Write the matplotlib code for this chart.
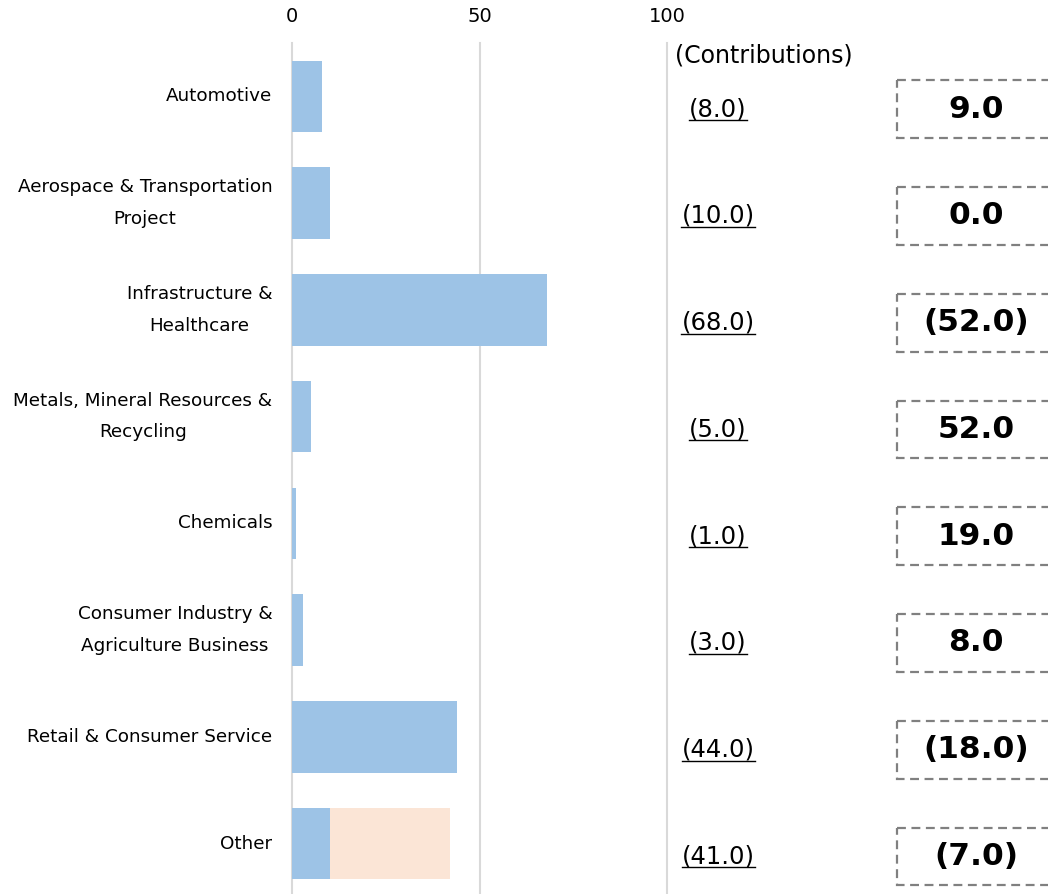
import matplotlib.pyplot as plt
from matplotlib.patches import Rectangle
from matplotlib.lines import Line2D
from matplotlib.transforms import blended_transform_factory

categories = [
    "Automotive",
    "Aerospace & Transportation\nProject",
    "Infrastructure &\nHealthcare",
    "Metals, Mineral Resources &\nRecycling",
    "Chemicals",
    "Consumer Industry &\nAgriculture Business",
    "Retail & Consumer Service",
    "Other",
]
core = [8, 10, 68, 5, 1, 3, 44, 10]
extra = [0, 0, 0, 0, 0, 0, 0, 32]
contributions = ["(8.0)", "(10.0)", "(68.0)", "(5.0)", "(1.0)", "(3.0)", "(44.0)", "(41.0)"]
changes = ["9.0", "0.0", "(52.0)", "52.0", "19.0", "8.0", "(18.0)", "(7.0)"]

W, H = 1048, 894
fig = plt.figure(figsize=(W / 100, H / 100), dpi=100)
ax = fig.add_axes([292 / W, -3 / H, 375 / W, 854 / H])

y = list(range(len(categories)))
ax.barh(y, core, height=0.67, color="#9DC3E6", zorder=2)
ax.barh(y, extra, left=core, height=0.67, color="#FBE5D6", zorder=2)

ax.set_xlim(0, 100)
ax.set_ylim(len(categories) - 0.5, -0.5)
ax.xaxis.tick_top()
ax.set_xticks([0, 50, 100])
ax.tick_params(axis="x", length=0, pad=12, labelsize=14)
ax.set_yticks(y)
ax.set_yticklabels(categories)
ax.tick_params(axis="y", length=0, pad=14, labelsize=13.2)
for lab in ax.get_yticklabels():
    lab.set_multialignment("center")
    lab.set_linespacing(1.95)
    lab.set_verticalalignment("center")
ax.grid(axis="x", color="#D9D9D9", lw=1.5, zorder=0)
for gl in ax.get_xgridlines():
    gl.set_clip_on(False)
for s in ax.spines.values():
    s.set_visible(False)

trans = blended_transform_factory(fig.transFigure, ax.transData)
fig.text(675 / W, 1 - 55 / H, "(Contributions)", fontsize=17, va="center", ha="left")

off = 0.12
texts = []
for i in y:
    t = ax.text(718 / W, i + off, contributions[i], transform=trans,
                ha="center", va="center", fontsize=17.5)
    texts.append(t)
    box = Rectangle((897 / W, i + off - 0.27), 156 / W, 0.54, transform=trans,
                    fill=False, edgecolor="#808080", lw=1.6,
                    linestyle=(0, (4, 2.5)), clip_on=False)
    fig.add_artist(box)
    ax.text(976 / W, i + off, changes[i], transform=trans, ha="center",
            va="center", fontsize=22.5, fontweight="bold")

fig.canvas.draw()
for t in texts:
    bb = t.get_window_extent()
    yy = (bb.y0 + 1) / H
    fig.add_artist(Line2D([bb.x0 / W, bb.x1 / W], [yy, yy],
                          transform=fig.transFigure, color="black", lw=1))

fig.savefig("out.png", dpi=100)
